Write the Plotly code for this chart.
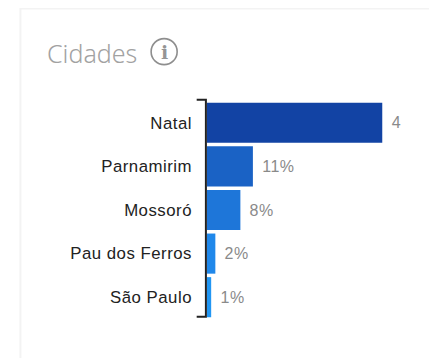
import plotly.graph_objects as go

cities = ["Natal", "Parnamirim", "Mossoró", "Pau dos Ferros", "São Paulo"]
values = [42, 11, 8, 2, 1]
labels = ["4", "11%", "8%", "2%", "1%"]
colors = ["#1243A4", "#1A62C5", "#1E76D9", "#2088EA", "#2196F3"]

W, H = 429, 358
L, R, T, B = 207.3, 0, 101.25, 39.25


def px(x):
    return (x - L) / (W - L)


def py(y):
    return (H - B - y) / (H - T - B)


fig = go.Figure(go.Bar(
    y=cities, x=values, orientation="h",
    marker=dict(color=colors, line=dict(width=0)),
    width=0.92, hoverinfo="skip",
))

shapes = [
    dict(type="rect", xref="paper", yref="paper", x0=px(20), x1=px(445),
         y0=py(372), y1=py(8.5), fillcolor="#F3F3F3", line_width=0, layer="below"),
    dict(type="rect", xref="paper", yref="paper", x0=px(22), x1=px(445),
         y0=py(372), y1=py(10), fillcolor="#FFFFFF", line_width=0, layer="below"),
    # axis bracket
    dict(type="path", xref="paper", yref="paper",
         path=f"M {px(197)} {py(100)} L {px(206.2)} {py(100)} L {px(206.2)} {py(316.5)} L {px(197)} {py(316.5)}",
         line=dict(color="#222222", width=2)),
    # info icon ring
    dict(type="circle", xref="paper", yref="paper", x0=px(151.5), x1=px(177.5),
         y0=py(65), y1=py(39), line=dict(color="#8E8E8E", width=1.6), fillcolor="rgba(0,0,0,0)"),
]

annotations = [
    dict(x=v, y=c, xref="x", yref="y", text=t, showarrow=False, xanchor="left", xshift=8,
         font=dict(family="Liberation Sans", size=16, color="#8A8A8A"))
    for c, v, t in zip(cities, values, labels)
]
annotations += [
    dict(xref="paper", yref="paper", x=px(48), y=py(53), text="Cidades", showarrow=False,
         xanchor="left", yanchor="middle", xshift=-2,
         font=dict(family="Noto Sans", size=25, color="#A2A2A2", weight=300)),
    dict(xref="paper", yref="paper", x=px(164.5), y=py(52), text="i", showarrow=False,
         xanchor="center", yanchor="middle",
         font=dict(family="DejaVu Serif", size=19, color="#959595", weight="bold")),
]

fig.update_layout(
    width=W, height=H, autosize=False,
    margin=dict(l=L, r=R, t=T, b=B, pad=0),
    paper_bgcolor="#FFFFFF", plot_bgcolor="rgba(0,0,0,0)",
    showlegend=False, shapes=shapes, annotations=annotations,
    xaxis=dict(range=[0, 53.2], visible=False, fixedrange=True),
    yaxis=dict(autorange="reversed", showline=False, ticks="",
               ticklabelstandoff=14, showgrid=False, zeroline=False,
               tickfont=dict(family="Liberation Sans", size=16.8, color="#222222")),
)

post = """
document.body.style.margin='0';document.body.style.overflow='hidden';
document.querySelectorAll('.ytick text').forEach(function(t){t.style.letterSpacing='0.5px';});
var a=document.querySelectorAll('.annotation-text');
for(var i=0;i<5;i++){a[i].style.letterSpacing='0.5px';}
"""
fig.write_html("out.html", config={"displayModeBar": False}, post_script=post)
